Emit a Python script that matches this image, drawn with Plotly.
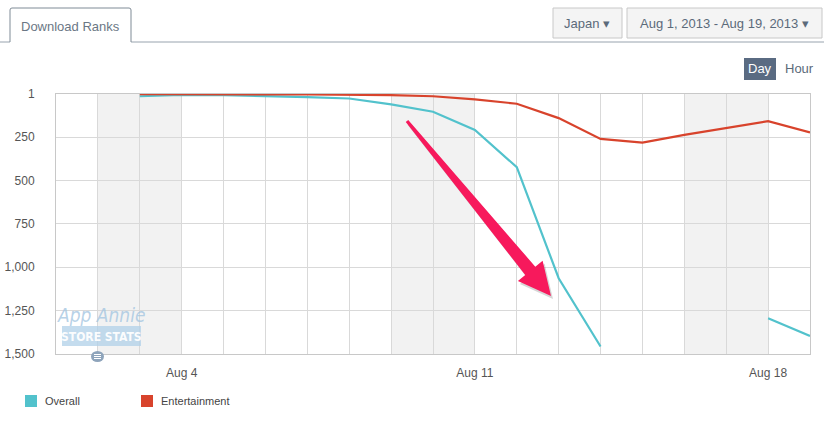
import plotly.graph_objects as go
import pandas as pd
import math

# ---- data ----
dates = pd.date_range("2013-08-01", "2013-08-19", freq="D")
overall = [None, None, 14, 6, 8, 12, 19, 27, 61, 103, 208, 423, 1063, 1457,
           None, None, None, 1294, 1396]
entertainment = [None, None, 2, 1, 2, 3, 4, 5, 8, 14, 32, 57, 140, 260,
                 281, 237, 198, 158, 223]
series_names = ["Overall", "Entertainment"]
series_colors = ["#52c2cc", "#d8432c"]
y_tickvals = [1, 250, 500, 750, 1000, 1250, 1500]
y_ticktext = ["1", "250", "500", "750", "1,000", "1,250", "1,500"]
x_tickvals = ["2013-08-04", "2013-08-11", "2013-08-18"]
x_ticktext = ["Aug 4", "Aug 11", "Aug 18"]
weekend_bands = [("2013-08-02", "2013-08-04"), ("2013-08-09", "2013-08-11"),
                 ("2013-08-16", "2013-08-18")]

W, H = 824, 421
L, R, T, B = 56, 14, 94, 67
PW, PH = W - L - R, H - T - B


def px(x):
    return (x - L) / PW


def py(y):
    return (H - B - y) / PH


FONT = "Liberation Sans, Arial, sans-serif"
NARROW = "DejaVu Sans Condensed, Liberation Sans Narrow, Liberation Sans, sans-serif"

fig = go.Figure()
for name, vals, col in zip(series_names, [overall, entertainment], series_colors):
    fig.add_trace(go.Scatter(x=dates, y=vals, mode="lines", name=name,
                             line=dict(color=col, width=2.2), connectgaps=False,
                             showlegend=False, hoverinfo="skip"))

shapes = []
for x0, x1 in weekend_bands:
    shapes.append(dict(type="rect", xref="x", yref="paper", x0=x0, x1=x1, y0=0, y1=1,
                       fillcolor="#f2f2f2", line=dict(width=0), layer="below"))

# --- arrow (decoration) ---
tail = (407.0, 121.0)
tip = (551.0, 296.0)
dx, dy = tip[0] - tail[0], tip[1] - tail[1]
ln = math.hypot(dx, dy)
ux, uy = dx / ln, dy / ln
nx, ny = -uy, ux
hb = (tail[0] + ux * 194, tail[1] + uy * 194)


def pt(base, off):
    return (base[0] + nx * off, base[1] + ny * off)


poly = [pt(tail, 1.6), pt(hb, 6.5), pt(hb, 16), tip, pt(hb, -16), pt(hb, -6.5), pt(tail, -1.6)]


def path(pts, ox=0, oy=0):
    return "M " + " L ".join(f"{px(x + ox):.5f},{py(y + oy):.5f}" for x, y in pts) + " Z"


shapes.append(dict(type="path", xref="paper", yref="paper", path=path(poly, 2, 3),
                   fillcolor="rgba(90,90,90,0.25)", line=dict(width=0), layer="above"))
shapes.append(dict(type="path", xref="paper", yref="paper", path=path(poly),
                   fillcolor="#f7195c", line=dict(width=0), layer="above"))

# --- top UI ---
line_col = "#98a3ae"
shapes += [
    dict(type="line", xref="paper", yref="paper", x0=px(0), x1=px(10), y0=py(42), y1=py(42), line=dict(color=line_col, width=1)),
    dict(type="line", xref="paper", yref="paper", x0=px(131), x1=px(824), y0=py(42), y1=py(42), line=dict(color=line_col, width=1)),
    dict(type="path", xref="paper", yref="paper",
         path=f"M {px(10)},{py(42)} L {px(10)},{py(10)} Q {px(10)},{py(8)} {px(12)},{py(8)} L {px(129)},{py(8)} Q {px(131)},{py(8)} {px(131)},{py(10)} L {px(131)},{py(42)}",
         line=dict(color="#7f8b96", width=1)),
    dict(type="rect", xref="paper", yref="paper", x0=px(553), x1=px(622), y0=py(38), y1=py(8),
         fillcolor="#f4f4f4", line=dict(color="#c8c8c8", width=1)),
    dict(type="rect", xref="paper", yref="paper", x0=px(627), x1=px(822), y0=py(38), y1=py(8),
         fillcolor="#f4f4f4", line=dict(color="#c8c8c8", width=1)),
    dict(type="rect", xref="paper", yref="paper", x0=px(744), x1=px(776), y0=py(80), y1=py(58),
         fillcolor="#5a6b82", line=dict(width=0)),
]

# --- legend squares ---
leg_x = [25, 141]
for lx, col in zip(leg_x, series_colors):
    shapes.append(dict(type="rect", xref="paper", yref="paper", x0=px(lx), x1=px(lx + 12),
                       y0=py(407), y1=py(395), fillcolor=col, line=dict(width=0)))

# --- watermark box + icon ---
shapes.append(dict(type="rect", xref="paper", yref="paper", x0=px(62), x1=px(141),
                   y0=py(346), y1=py(326), fillcolor="rgba(176,208,232,0.75)", line=dict(width=0), layer="above"))
shapes.append(dict(type="circle", xref="paper", yref="paper", x0=px(91), x1=px(104),
                   y0=py(362), y1=py(351), fillcolor="#8ea4bb", line=dict(width=0), layer="above"))
for yy in (354.5, 356.5, 358.5):
    shapes.append(dict(type="line", xref="paper", yref="paper", x0=px(94), x1=px(101),
                       y0=py(yy), y1=py(yy), line=dict(color="white", width=1), layer="above"))

ann = []


def text(x, y, s, size=12, color="#555", xanchor="center", family=FONT):
    ann.append(dict(xref="paper", yref="paper", x=px(x), y=py(y), text=s, showarrow=False,
                    xanchor=xanchor, yanchor="middle", font=dict(family=family, size=size, color=color)))


text(70, 26, "Download Ranks", 13, "#6b7785")
text(587, 23, "Japan \u25BE", 13, "#5b6a7a")
text(724, 23, "Aug 1, 2013 - Aug 19, 2013 \u25BE", 13, "#5b6a7a")
text(760, 69, "Day", 13, "#ffffff")
text(799, 69, "Hour", 13, "#5b6a7a")
for lx, name in zip(leg_x, series_names):
    text(lx + 18, 401, name, 11, "#444444", xanchor="left")
text(101, 315, "<i>App Annie</i>", 19, "rgba(165,198,225,0.8)", family=NARROW)
text(101.5, 336.5, "<b>STORE STATS</b>", 12, "rgba(255,255,255,0.95)", family=NARROW)

fig.update_layout(
    width=W, height=H,
    margin=dict(l=L, r=R, t=T, b=B, autoexpand=False),
    paper_bgcolor="white", plot_bgcolor="white",
    shapes=shapes, annotations=ann,
    showlegend=False,
    font=dict(family=FONT, size=12, color="#555"),
    xaxis=dict(range=[dates[0], dates[-1]], tickvals=x_tickvals, ticktext=x_ticktext,
               showgrid=True, gridcolor="#d9d9d9", gridwidth=1, automargin=False,
               minor=dict(dtick=86400000, showgrid=True, gridcolor="#d9d9d9", gridwidth=1),
               showline=True, linecolor="#c8c8c8", mirror=True, zeroline=False,
               ticks="", ticklabelstandoff=8, tickfont=dict(size=12, color="#555")),
    yaxis=dict(range=[1500, 1], tickvals=y_tickvals, ticktext=y_ticktext,
               showgrid=True, gridcolor="#d9d9d9", gridwidth=1, automargin=False,
               showline=True, linecolor="#c8c8c8", mirror=True, zeroline=False,
               ticks="", ticklabelstandoff=18, tickfont=dict(size=12, color="#555")),
)

fig.write_html("out.html", config={"displayModeBar": False},
               post_script="document.body.style.margin='0';document.body.style.overflow='hidden';")
